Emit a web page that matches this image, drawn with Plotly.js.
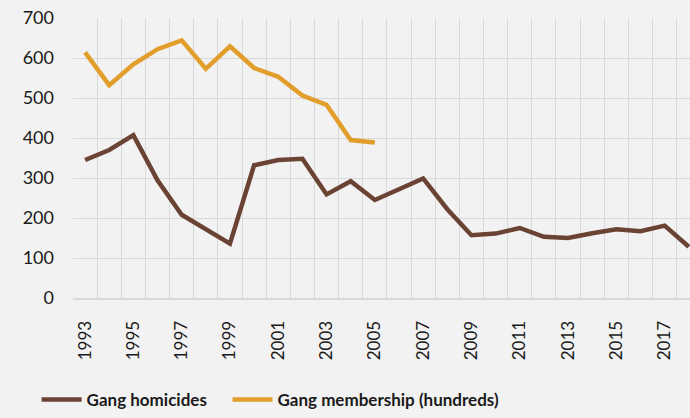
<!DOCTYPE html>
<html>
<head>
<meta charset="utf-8">
<script src="https://cdn.plot.ly/plotly-3.0.1.min.js"></script>
<style>html,body{margin:0;padding:0;background:#F2F2F2;}</style>
</head>
<body>
<div id="chart" style="width:690px;height:418px;"></div>
<script>
const years = [1993,1994,1995,1996,1997,1998,1999,2000,2001,2002,2003,2004,2005,2006,2007,2008,2009,2010,2011,2012,2013,2014,2015,2016,2017,2018];
const gangHomicides = [345,370,407,294,208,173,136,332,345,348,259,292,245,272,299,222,157,161,175,153,150,162,172,167,181,128];
const membershipYears = [1993,1994,1995,1996,1997,1998,1999,2000,2001,2002,2003,2004,2005];
const gangMembership = [614,532,584,622,644,573,629,575,553,506,483,395,389];
const xTickVals = [1993,1995,1997,1999,2001,2003,2005,2007,2009,2011,2013,2015,2017];
const yTickVals = [0,100,200,300,400,500,600,700];

const font = "Lato, 'Open Sans', sans-serif";
const traces = [
  {x: years, y: gangHomicides, name: 'Gang homicides', type: 'scatter', mode: 'lines',
   line: {color: '#6B4335', width: 4.5}, legend: 'legend'},
  {x: membershipYears, y: gangMembership, name: 'Gang membership (hundreds)', type: 'scatter', mode: 'lines',
   line: {color: '#E29E2A', width: 4.5}, legend: 'legend2'}
];
const legendFont = {family: font, size: 17, weight: 'bold', color: '#1a1a1a'};
const layout = {
  width: 690, height: 418,
  paper_bgcolor: '#F2F2F2', plot_bgcolor: '#F2F2F2',
  margin: {l: 73, r: 0, t: 18, b: 116},
  font: {family: font, color: '#1a1a1a', size: 18},
  showlegend: true,
  legend: {orientation: 'h', x: -0.059, xanchor: 'left', y: -0.3, yanchor: 'top',
    font: legendFont, bgcolor: 'rgba(0,0,0,0)', itemwidth: 40},
  legend2: {orientation: 'h', x: 0.2504, xanchor: 'left', y: -0.3, yanchor: 'top',
    font: legendFont, bgcolor: 'rgba(0,0,0,0)', itemwidth: 40},
  xaxis: {
    range: [1992.5, 2018.05], tickvals: xTickVals, ticktext: xTickVals.map(String),
    tickangle: -90, showgrid: false, zeroline: false,
    showline: true, linecolor: '#D9D9D9', linewidth: 2,
    ticks: '', ticklabelstandoff: 14, tickfont: {size: 17, family: font},
    minor: {tick0: 1992.5, dtick: 1, showgrid: true, gridcolor: '#D9D9D9', gridwidth: 1},
    fixedrange: true
  },
  yaxis: {
    range: [0, 700], tickvals: yTickVals, showgrid: true, gridcolor: '#D9D9D9', gridwidth: 1,
    zeroline: false, showline: false, ticks: '', ticklabelstandoff: 18,
    tickfont: {size: 18, family: font}, fixedrange: true
  }
};
Plotly.newPlot('chart', traces, layout, {displayModeBar: false, staticPlot: true});
</script>
</body>
</html>
